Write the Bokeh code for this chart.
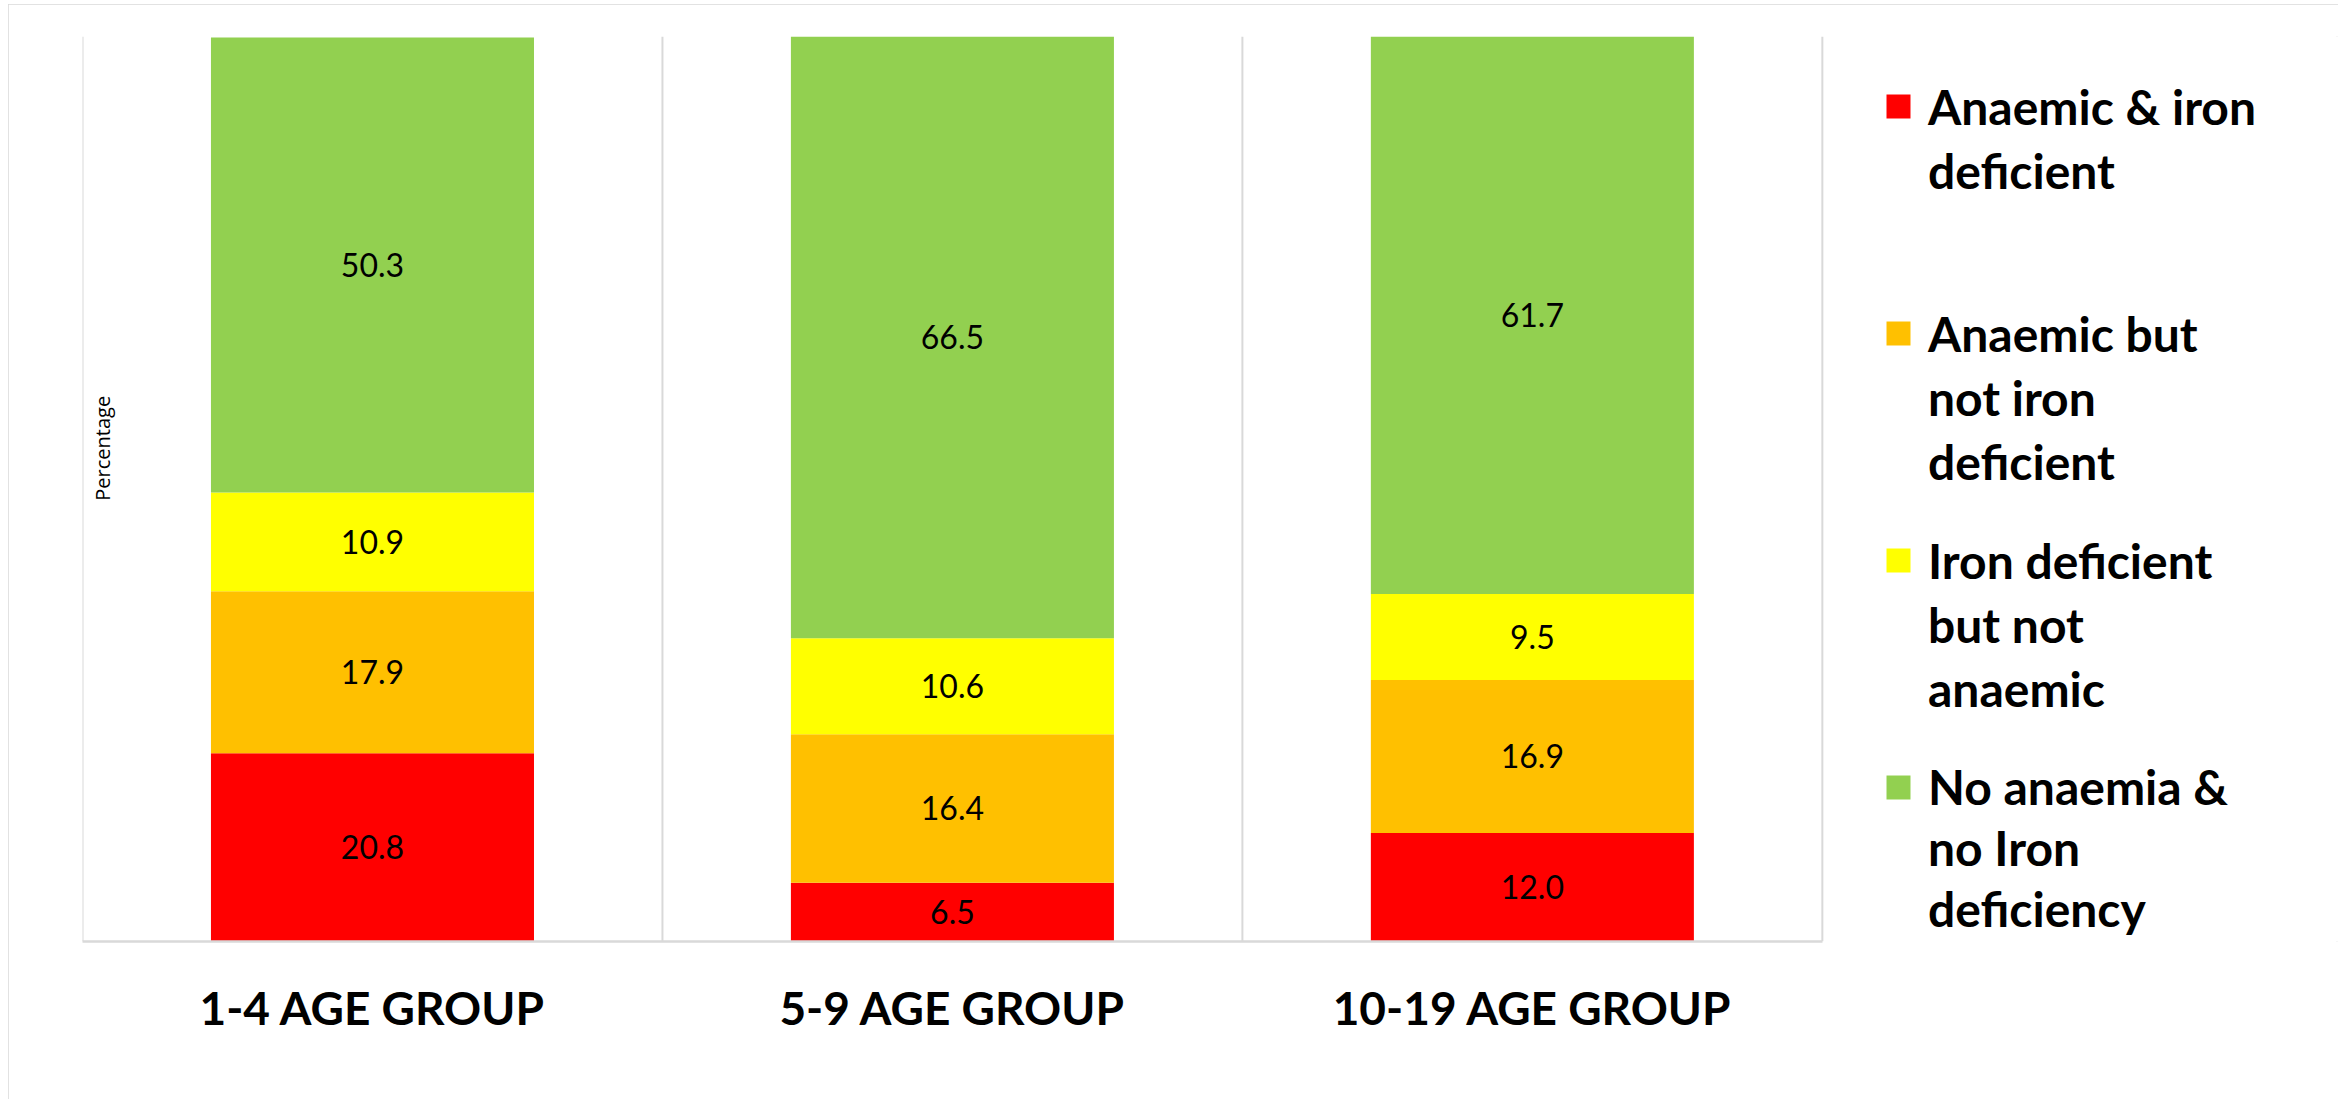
from bokeh.plotting import figure
from bokeh.models import (ColumnDataSource, Range1d, Span, Label, LabelSet,
                          Legend, LegendItem, FixedTicker)
from bokeh.core.properties import value
from bokeh.embed import file_html
from bokeh.resources import INLINE

# Age groups on the x axis
age_groups = ["1-4 AGE GROUP", "5-9 AGE GROUP", "10-19 AGE GROUP"]

# Percentage of each status within an age group (stacked bottom to top)
anaemic_iron_deficient = [20.8, 6.5, 12.0]
anaemic_not_iron_deficient = [17.9, 16.4, 16.9]
iron_deficient_not_anaemic = [10.9, 10.6, 9.5]
no_anaemia_no_deficiency = [50.3, 66.5, 61.7]

series_values = [anaemic_iron_deficient, anaemic_not_iron_deficient,
                 iron_deficient_not_anaemic, no_anaemia_no_deficiency]
series_labels = [["Anaemic & iron", "deficient"],
                 ["Anaemic but", "not iron", "deficient"],
                 ["Iron deficient", "but not", "anaemic"],
                 ["No anaemia &", "no Iron", "deficiency"]]
series_colors = ["#FF0000", "#FFC000", "#FFFF00", "#92D050"]

# one unit per age group; the frame continues to the right to hold the legend
xpos = [i + 0.5 for i in range(len(age_groups))]
n_groups = len(age_groups)

p = figure(x_range=Range1d(0, 3.89), y_range=Range1d(0, 100),
           width=2330, height=1095, output_backend="svg", toolbar_location=None,
           min_border_left=74, min_border_right=0, min_border_top=32,
           min_border_bottom=158, margin=(4, 0, 0, 8))
# light grey chart border around the whole figure
p.styles = {"outline": "2.5px solid #d9d9d9", "outline-offset": "-2px"}
p.outline_line_color = None
p.xgrid.visible = False
p.ygrid.visible = False
p.yaxis.visible = False

xa = p.xaxis[0]
xa.ticker = FixedTicker(ticks=xpos)
xa.major_label_overrides = {x: g for x, g in zip(xpos, age_groups)}
xa.bounds = (0, n_groups)
xa.axis_line_color = "#d9d9d9"
xa.axis_line_width = 2.5
xa.major_tick_line_color = None
xa.minor_tick_line_color = None
xa.major_label_text_font = "Lato"
xa.major_label_text_font_style = "bold"
xa.major_label_text_font_size = "46px"
xa.major_label_text_color = "#000000"
xa.major_label_standoff = 32

# group separators
for loc in range(n_groups + 1):
    p.add_layout(Span(location=loc, dimension="height", line_color="#d9d9d9",
                      line_width=2, level="underlay"))

# stacked bars with value labels
bottom = [0.0] * n_groups
renderers = []
for vals, col in zip(series_values, series_colors):
    top = [b + v for b, v in zip(bottom, vals)]
    src = ColumnDataSource(dict(x=xpos, bottom=bottom, top=top,
                                mid=[(b + t) / 2 for b, t in zip(bottom, top)],
                                txt=["%.1f" % v for v in vals]))
    r = p.vbar(x="x", bottom="bottom", top="top", width=0.557, source=src,
               fill_color=col, line_color=None)
    renderers.append(r)
    p.add_layout(LabelSet(x="x", y="mid", text="txt", source=src,
                          text_align="center", text_baseline="middle",
                          text_font_size="32px", text_font=value("Lato"),
                          text_color="#000000"))
    bottom = top

p.add_layout(Label(x=0.035, y=54.5, text="Percentage", angle=90, angle_units="deg",
                   text_align="center", text_baseline="middle",
                   text_font_size="20px", text_font="Open Sans",
                   text_color="#000000"))

# invisible renderer used for the wrapped continuation lines of the legend
blank = p.vbar(x=[], top=[], width=0.5, fill_alpha=0, line_alpha=0)

# one legend block per series, first line carries the colour square
legend_offsets = [739, 448, 221, 2]
legend_row_heights = [64, 64, 64, 61]
for lines, r, vy, lh in zip(series_labels, renderers, legend_offsets, legend_row_heights):
    items = [LegendItem(label=lines[0], renderers=[r])]
    items += [LegendItem(label=t, renderers=[blank]) for t in lines[1:]]
    lg = Legend(items=items, location=(1801, vy), glyph_width=30, glyph_height=30,
                label_standoff=15, label_height=lh, spacing=0,
                label_text_font="Lato", label_text_font_style="bold",
                label_text_font_size="48px", label_text_baseline="middle",
                label_text_color="#000000",
                padding=0, margin=0, border_line_color=None,
                background_fill_alpha=0)
    p.add_layout(lg)

open("out.html", "w").write(file_html(p, INLINE))
